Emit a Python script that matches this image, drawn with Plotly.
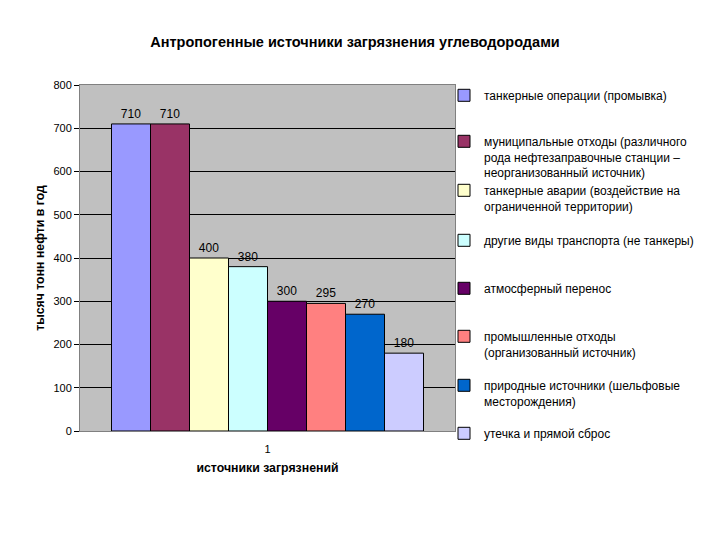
import plotly.graph_objects as go

categories = ["1"]
names = [
    "танкерные операции (промывка)",
    "муниципальные отходы (различного<br>рода нефтезаправочные станции –<br>неорганизованный источник)",
    "танкерные аварии (воздействие на<br>ограниченной территории)",
    "другие виды транспорта (не танкеры)",
    "атмосферный перенос",
    "промышленные отходы<br>(организованный источник)",
    "природные источники (шельфовые<br>месторождения)",
    "утечка и прямой сброс",
]
values = [710, 710, 400, 380, 300, 295, 270, 180]
colors = ["#9999FF", "#993366", "#FFFFCC", "#CCFFFF", "#660066", "#FF8080", "#0066CC", "#CCCCFF"]
legend_y_px = [95, 141, 190, 240, 288, 336, 385, 433]

FONT = "Liberation Sans, Arial, sans-serif"
OFF = 8  # page body margin
W, H = 720 - OFF, 540 - OFF
L, R, T, B = 80 - OFF, 455 - OFF, 85 - OFF, 431 - OFF

fig = go.Figure()
for i, (n, v, c) in enumerate(zip(names, values, colors)):
    lg = "legend" if i == 0 else f"legend{i+1}"
    fig.add_trace(go.Bar(
        x=categories, y=[v], name=n, marker=dict(color=c, line=dict(color="black", width=1)),
        text=[str(v)], textposition="outside", textfont=dict(size=12, color="black", family=FONT),
        cliponaxis=False, legend=lg,
    ))

layout_legends = {}
for i, py in enumerate(legend_y_px):
    key = "legend" if i == 0 else f"legend{i+1}"
    layout_legends[key] = dict(
        x=(436 - L) / (R - L), xanchor="left",
        y=(B - (py - OFF - 14)) / (B - T), yanchor="top",
        bgcolor="rgba(0,0,0,0)", font=dict(size=12, family=FONT, color="black"),
        valign="top", itemwidth=30, tracegroupgap=0,
    )

fig.update_layout(
    width=W, height=H,
    margin=dict(l=L, r=W - R, t=T, b=H - B, autoexpand=False),
    paper_bgcolor="white", plot_bgcolor="#C0C0C0",
    barmode="group", bargap=0.168, bargroupgap=0,
    showlegend=True,
    title=dict(text="<b>Антропогенные источники загрязнения углеводородами</b>",
               x=(355 - OFF) / W, xanchor="center", y=1 - (42 - OFF) / H, yanchor="middle",
               font=dict(size=14.5, family=FONT, color="black")),
    font=dict(family=FONT, color="black"),
    **layout_legends,
)
fig.update_yaxes(range=[0, 800], dtick=100, showgrid=True, gridcolor="black", gridwidth=1,
                 ticks="outside", ticklen=5, tickcolor="black",
                 tickfont=dict(size=11, family=FONT, color="black"),
                 showline=True, linecolor="#808080", mirror=True, zeroline=False,
                 title=dict(text="<b>тысяч тонн нефти в год</b>", font=dict(size=12.3, family=FONT), standoff=6))
fig.update_xaxes(showline=True, linecolor="#808080", mirror=True, ticks="outside", ticklen=8,
                 tickcolor="rgba(0,0,0,0)",
                 tickfont=dict(size=11, family=FONT, color="black"),
                 title=dict(text="<b>источники загрязнений</b>", font=dict(size=12.3, family=FONT), standoff=9))

fig.write_html("out.html")
